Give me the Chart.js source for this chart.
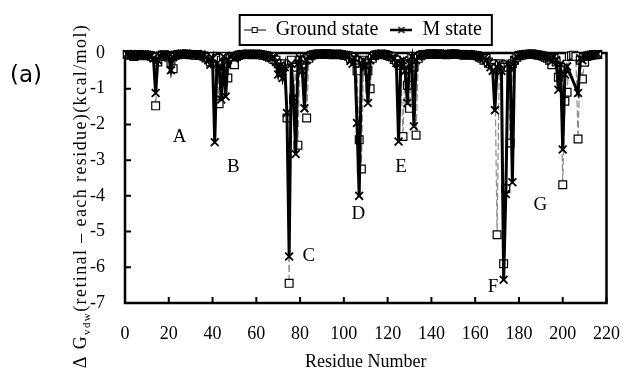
<!DOCTYPE html>
<html>
<head>
<meta charset="utf-8">
<script src="https://cdn.jsdelivr.net/npm/chart.js@4.4.1/dist/chart.umd.min.js"></script>
<style>
  html, body { margin: 0; padding: 0; background: #fff; }
</style>
</head>
<body>
<canvas id="myChart" width="640" height="375"></canvas>
<script>
// residue numbers (x axis)
const residues = [
  1,2,3,4,5,6,7,8,9,10, 11,12,13,14,15,16,17,18,19,20,
  21,22,23,24,25,26,27,28,29,30, 31,32,33,34,35,36,37,38,39,40,
  41,42,43,44,45,46,47,48,49,50, 51,52,53,54,55,56,57,58,59,60,
  61,62,63,64,65,66,67,68,69,70, 71,72,73,74,75,76,77,78,79,80,
  81,82,83,84,85,86,87,88,89,90, 91,92,93,94,95,96,97,98,99,100,
  101,102,103,104,105,106,107,108,109,110, 111,112,113,114,115,116,117,118,119,120,
  121,122,123,124,125,126,127,128,129,130, 131,132,133,134,135,136,137,138,139,140,
  141,142,143,144,145,146,147,148,149,150, 151,152,153,154,155,156,157,158,159,160,
  161,162,163,164,165,166,167,168,169,170, 171,172,173,174,175,176,177,178,179,180,
  181,182,183,184,185,186,187,188,189,190, 191,192,193,194,195,196,197,198,199,200,
  201,202,203,204,205,206,207,208,209,210, 211,212,213,214,215,216
];

// Ground state, kcal/mol
const groundState = [
  -0.04,-0.06,-0.05,-0.10,-0.07,-0.04,-0.06,-0.08,-0.05,-0.06,
  -0.07,-0.09,-0.12,-1.48,-0.25,-0.10,-0.06,-0.05,-0.07,-0.12,
  -0.30,-0.44,-0.06,-0.05,-0.04,-0.03,-0.04,-0.03,-0.04,-0.05,
  -0.05,-0.06,-0.04,-0.07,-0.06,-0.09,-0.14,-0.12,-0.25,-0.10,
  -0.30,-0.15,-1.42,-0.20,-0.10,-0.30,-0.70,-0.10,-0.12,-0.33,
  -0.10,-0.06,-0.05,-0.04,-0.04,-0.03,-0.04,-0.05,-0.04,-0.03,
  -0.04,-0.05,-0.06,-0.07,-0.09,-0.12,-0.10,-0.18,-0.20,-0.30,
  -0.50,-0.40,-0.30,-1.82,-6.45,-0.20,-1.31,-0.40,-2.58,-0.20,
  -0.30,-0.20,-1.82,-0.15,-0.08,-0.05,-0.04,-0.03,-0.03,-0.04,
  -0.03,-0.02,-0.03,-0.04,-0.05,-0.04,-0.03,-0.04,-0.05,-0.06,
  -0.07,-0.08,-0.15,-0.12,-0.20,-0.50,-2.43,-3.25,-0.20,-0.30,
  -0.50,-1.00,-0.15,-0.07,-0.05,-0.04,-0.03,-0.04,-0.05,-0.07,
  -0.09,-0.10,-0.18,-0.20,-0.30,-0.35,-2.34,-0.30,-0.90,-1.55,
  -0.10,-0.40,-2.30,-0.15,-0.08,-0.05,-0.04,-0.04,-0.03,-0.03,
  -0.03,-0.04,-0.03,-0.03,-0.04,-0.04,-0.05,-0.04,-0.03,-0.03,
  -0.03,-0.04,-0.04,-0.05,-0.06,-0.05,-0.04,-0.05,-0.06,-0.07,
  -0.08,-0.12,-0.15,-0.20,-0.15,-0.25,-0.30,-0.30,-0.40,-5.09,
  -0.30,-0.40,-5.90,-3.80,-0.40,-2.52,-0.30,-0.20,-0.12,-0.08,
  -0.06,-0.05,-0.04,-0.04,-0.03,-0.03,-0.04,-0.05,-0.06,-0.07,
  -0.09,-0.12,-0.15,-0.20,-0.33,-0.15,-0.25,-0.68,-0.40,-3.69,
  -1.35,-1.10,-0.10,-0.08,-0.06,-0.10,-2.41,-0.20,-0.73,-0.26,
  -0.10,-0.08,-0.06,-0.05,-0.05,-0.04
];

// M state, kcal/mol (203-206 not plotted)
const mState = [
  -0.03,-0.05,-0.04,-0.08,-0.06,-0.03,-0.05,-0.07,-0.04,-0.05,
  -0.06,-0.08,-0.15,-1.12,-0.20,-0.08,-0.05,-0.04,-0.06,-0.10,
  -0.48,-0.12,-0.05,-0.04,-0.03,-0.02,-0.03,-0.02,-0.03,-0.04,
  -0.04,-0.05,-0.03,-0.06,-0.05,-0.08,-0.12,-0.20,-0.33,-0.15,
  -2.50,-0.30,-0.40,-1.30,-0.10,-1.22,-0.20,-0.10,-0.08,-0.15,
  -0.08,-0.05,-0.04,-0.03,-0.03,-0.02,-0.03,-0.04,-0.03,-0.02,
  -0.03,-0.04,-0.05,-0.06,-0.08,-0.10,-0.15,-0.12,-0.25,-0.60,
  -0.35,-0.70,-0.40,-1.68,-5.70,-0.30,-1.25,-2.83,-0.30,-0.15,
  -0.50,-1.55,-0.20,-0.10,-0.06,-0.04,-0.03,-0.02,-0.02,-0.03,
  -0.02,-0.01,-0.02,-0.03,-0.04,-0.03,-0.02,-0.03,-0.04,-0.05,
  -0.06,-0.10,-0.22,-0.30,-0.15,-1.96,-4.00,-0.30,-0.20,-0.37,
  -1.40,-0.20,-0.10,-0.05,-0.04,-0.03,-0.02,-0.03,-0.04,-0.06,
  -0.08,-0.12,-0.15,-0.28,-2.48,-0.30,-0.20,-0.50,-1.40,-0.30,
  -0.10,-2.05,-0.20,-0.10,-0.06,-0.04,-0.03,-0.03,-0.02,-0.02,
  -0.02,-0.03,-0.02,-0.02,-0.03,-0.03,-0.04,-0.03,-0.02,-0.02,
  -0.02,-0.03,-0.03,-0.04,-0.05,-0.04,-0.03,-0.04,-0.05,-0.06,
  -0.08,-0.10,-0.12,-0.15,-0.20,-0.30,-0.40,-0.50,-1.60,-0.40,
  -0.30,-0.50,-6.35,-3.95,-0.30,-0.40,-3.62,-0.20,-0.10,-0.06,
  -0.05,-0.04,-0.03,-0.03,-0.02,-0.02,-0.03,-0.04,-0.05,-0.06,
  -0.08,-0.10,-0.12,-0.15,-0.23,-0.10,-0.20,-1.03,-0.30,-2.70,
  -0.60,-0.38,null,null,null,null,-1.12,-0.15,-0.20,-0.10,
  -0.08,-0.06,-0.05,-0.04,-0.04,-0.03
];

// region labels placed in data coordinates
const regionNames = ['A', 'B', 'C', 'D', 'E', 'F', 'G'];
const regionX = [25, 49.5, 84, 106.6, 126.1, 168.1, 189.8];
const regionY = [-2.34, -3.2, -5.68, -4.5, -3.2, -6.56, -4.25];

const xTicks = [0, 20, 40, 60, 80, 100, 120, 140, 160, 180, 200, 220];
const yTicks = [0, -1, -2, -3, -4, -5, -6, -7];

const serif = "'Liberation Serif', 'DejaVu Serif', serif";
Chart.defaults.font.family = serif;
Chart.defaults.color = '#000';

// little legend pictures: line with its marker
function legendIcon(isGround) {
  const c = document.createElement('canvas');
  c.width = 22; c.height = 12;
  const g = c.getContext('2d');
  g.strokeStyle = '#000';
  g.lineWidth = isGround ? 1 : 2.5;
  g.beginPath(); g.moveTo(0, 6); g.lineTo(22, 6); g.stroke();
  g.lineWidth = 1;
  if (isGround) {
    g.fillStyle = '#fff';
    g.fillRect(8, 3, 6, 6);
    g.strokeRect(8.5, 3.5, 5, 5);
  } else {
    g.lineWidth = 1.5;
    g.beginPath();
    g.moveTo(8, 3); g.lineTo(14, 9);
    g.moveTo(14, 3); g.lineTo(8, 9);
    g.stroke();
  }
  return c;
}
const icons = [legendIcon(true), legendIcon(false)];

const decorPlugin = {
  id: 'decor',
  afterLayout(chart) {
    const l = chart.legend;
    l.top -= 3; l.bottom -= 3;
    l.left -= 3; l.right -= 3;
  },
  beforeDatasetsDraw(chart) {
    const ctx = chart.ctx;
    const a = chart.chartArea;
    const xs = chart.scales.x, ys = chart.scales.y;
    ctx.save();
    ctx.strokeStyle = '#000';
    ctx.lineWidth = 2.5;
    ctx.strokeRect(a.left, a.top, a.right - a.left, a.bottom - a.top);
    ctx.lineWidth = 2;
    ctx.beginPath();
    ys.ticks.forEach(t => {
      const py = ys.getPixelForValue(t.value);
      ctx.moveTo(a.left, py); ctx.lineTo(a.left + 6, py);
    });
    xs.ticks.forEach(t => {
      const px = xs.getPixelForValue(t.value);
      ctx.moveTo(px, a.bottom); ctx.lineTo(px, a.bottom - 6);
    });
    ctx.stroke();
    ctx.restore();
  },
  afterDraw(chart) {
    const ctx = chart.ctx;
    const xs = chart.scales.x, ys = chart.scales.y;
    ctx.save();

    // box round the legend
    const hb = chart.legend.legendHitBoxes;
    if (hb && hb.length) {
      let l = Infinity, r = -Infinity, t = Infinity, b = -Infinity;
      hb.forEach(h => {
        l = Math.min(l, h.left); r = Math.max(r, h.left + h.width);
        t = Math.min(t, h.top); b = Math.max(b, h.top + h.height);
      });
      ctx.strokeStyle = '#000';
      ctx.lineWidth = 2;
      ctx.strokeRect(l - 4, t - 5, r - l + 14, b - t + 10);
    }

    // region letters
    ctx.fillStyle = '#000';
    ctx.font = '19px ' + serif;
    ctx.textAlign = 'center';
    ctx.textBaseline = 'middle';
    regionNames.forEach((n, i) => {
      ctx.fillText(n, xs.getPixelForValue(regionX[i]), ys.getPixelForValue(regionY[i]));
    });

    // panel tag
    ctx.font = "23px 'DejaVu Sans', sans-serif";
    ctx.fillText('(a)', 26, 76);

    // y axis title with subscript
    const parts = [
      { s: '\u0394 G', f: '18px ' + serif, dy: 0 },
      { s: 'vdw', f: '11px ' + serif, dy: 4 },
      { s: '(retinal \u2013 each residue)(kcal/mol)', f: '18px ' + serif, dy: 0 }
    ];
    ctx.letterSpacing = '1.4px';
    let total = 0;
    parts.forEach(p => { ctx.font = p.f; p.w = ctx.measureText(p.s).width; total += p.w; });
    ctx.translate(80, 196);
    ctx.rotate(-Math.PI / 2);
    ctx.textAlign = 'left';
    ctx.textBaseline = 'alphabetic';
    let cx = -total / 2;
    parts.forEach(p => {
      ctx.font = p.f;
      ctx.fillText(p.s, cx, 6 + p.dy);
      cx += p.w;
    });
    ctx.restore();
  }
};

const ctx = document.getElementById('myChart').getContext('2d');

const chart = new Chart(ctx, {
  type: 'line',
  data: {
    labels: residues,
    datasets: [{
      label: 'Ground state',
      data: residues.map((r, i) => ({ x: r, y: groundState[i] })),
      borderColor: '#8c8c8c',
      borderWidth: 1.2,
      borderDash: [7, 3],
      pointStyle: 'rect',
      pointRadius: 5.5,
      pointBorderWidth: 1.2,
      pointBorderColor: '#000',
      pointBackgroundColor: '#fff',
      tension: 0,
      clip: false,
      order: 2
    }, {
      label: 'M state',
      data: residues.map((r, i) => ({ x: r, y: mState[i] })),
      borderColor: '#000',
      borderWidth: 3,
      pointStyle: 'crossRot',
      pointRadius: 5.5,
      pointBorderWidth: 1.8,
      pointBorderColor: '#000',
      tension: 0,
      spanGaps: true,
      clip: false,
      order: 1
    }]
  },
  options: {
    responsive: false,
    animation: false,
    layout: { padding: { left: 0, right: 18, top: 11, bottom: 0 } },
    plugins: {
      tooltip: { enabled: false },
      legend: {
        position: 'top',
        fullSize: false,
        labels: {
          font: { size: 20, family: serif },
          color: '#000',
          usePointStyle: true,
          pointStyleWidth: 22,
          padding: 12,
          generateLabels(chart) {
            return chart.data.datasets.map((d, i) => ({
              text: d.label,
              datasetIndex: i,
              pointStyle: icons[i],
              fillStyle: '#fff',
              strokeStyle: '#000',
              lineWidth: 0,
              hidden: false
            }));
          }
        }
      }
    },
    scales: {
      x: {
        type: 'linear',
        min: 0,
        max: 220,
        afterBuildTicks: s => { s.ticks = xTicks.map(v => ({ value: v })); },
        grid: { display: false, drawTicks: false },
        border: { display: false },
        ticks: { font: { size: 18 }, padding: 20, maxRotation: 0 },
        title: { display: true, text: 'Residue Number', font: { size: 18 }, padding: { top: 0, bottom: 2 } },
        afterFit: s => { s.height = 72; }
      },
      y: {
        min: -7,
        max: 0,
        afterBuildTicks: s => { s.ticks = yTicks.map(v => ({ value: v })); },
        grid: { display: false, drawTicks: false },
        border: { display: false },
        ticks: { font: { size: 18 }, padding: 20, callback: v => String(v) },
        afterFit: s => { s.width = 125; }
      }
    }
  },
  plugins: [decorPlugin]
});
</script>
</body>
</html>
